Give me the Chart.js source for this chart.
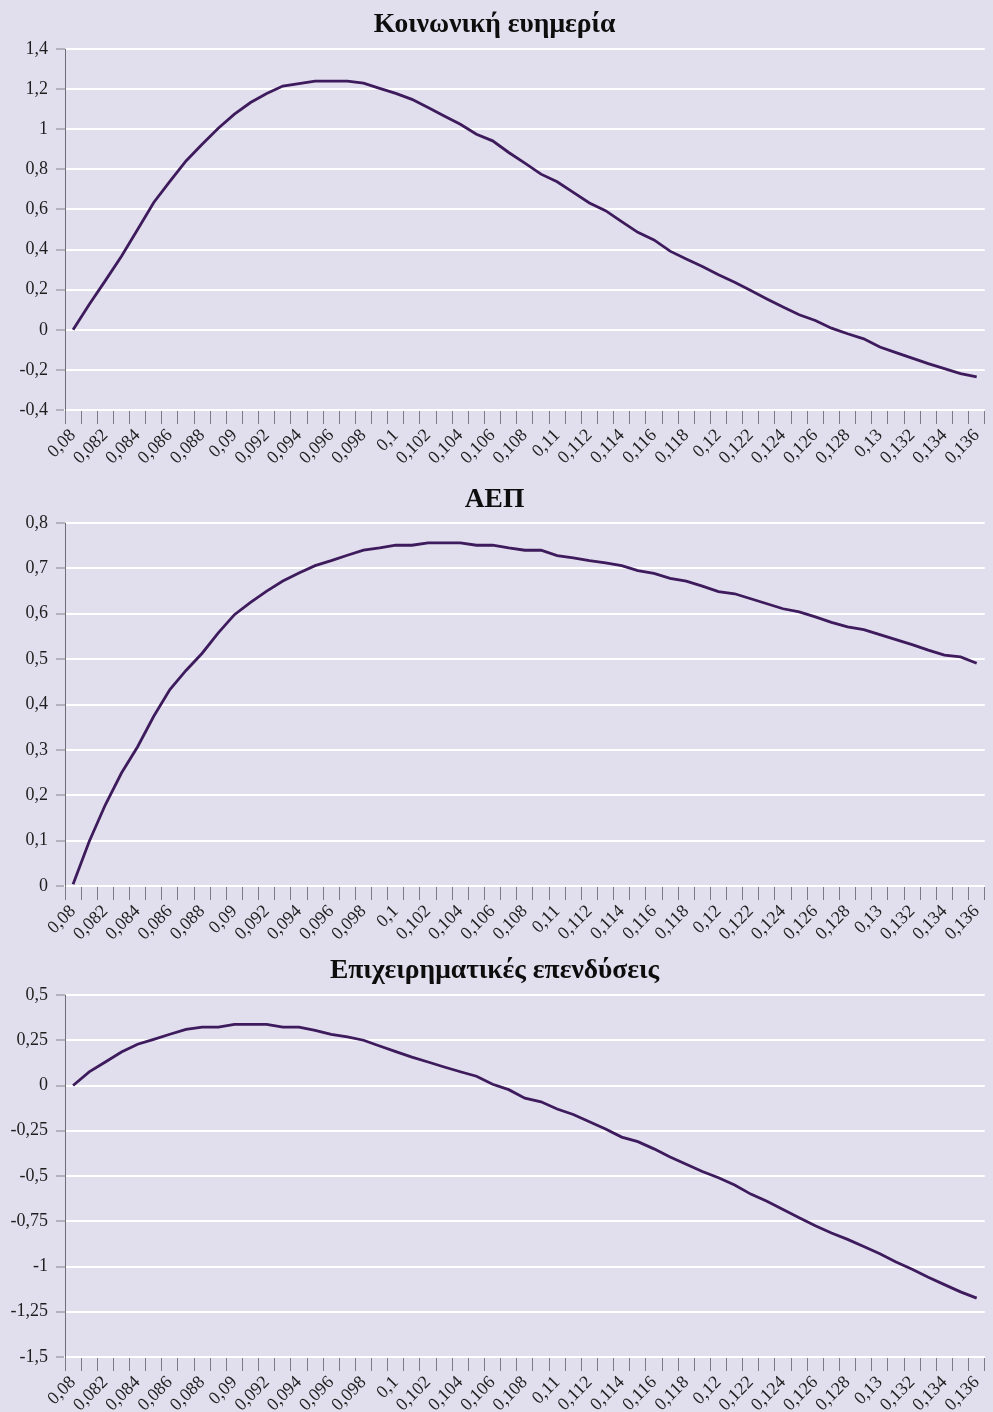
<!DOCTYPE html>
<html>
<head>
<meta charset="utf-8">
<script src="https://cdn.jsdelivr.net/npm/chart.js@4.4.1/dist/chart.umd.min.js"></script>
<style>
  html, body { margin: 0; padding: 0; background: #e1deed; }
  body { width: 993px; height: 1412px; position: relative; overflow: hidden; }
  .box { position: absolute; left: 0; width: 993px; }
  canvas { display: block; }
</style>
</head>
<body>
<div class="box" style="top:0px;height:470px;"><canvas id="c1" width="993" height="470"></canvas></div>
<div class="box" style="top:470px;height:475px;"><canvas id="c2" width="993" height="475"></canvas></div>
<div class="box" style="top:945px;height:467px;"><canvas id="c3" width="993" height="467"></canvas></div>
<script>
const categories = ['0,08','0,081','0,082','0,083','0,084','0,085','0,086','0,087','0,088','0,089',
  '0,09','0,091','0,092','0,093','0,094','0,095','0,096','0,097','0,098','0,099',
  '0,1','0,101','0,102','0,103','0,104','0,105','0,106','0,107','0,108','0,109',
  '0,11','0,111','0,112','0,113','0,114','0,115','0,116','0,117','0,118','0,119',
  '0,12','0,121','0,122','0,123','0,124','0,125','0,126','0,127','0,128','0,129',
  '0,13','0,131','0,132','0,133','0,134','0,135','0,136'];

const titles = ['Κοινωνική ευημερία', 'ΑΕΠ', 'Επιχειρηματικές επενδύσεις'];

const welfare = [0.0, 0.126, 0.245, 0.367, 0.50, 0.635, 0.74, 0.842, 0.925, 1.005,
  1.075, 1.133, 1.178, 1.215, 1.227, 1.24, 1.24, 1.24, 1.23, 1.204,
  1.179, 1.149, 1.108, 1.066, 1.025, 0.975, 0.942, 0.884, 0.831, 0.776,
  0.738, 0.685, 0.632, 0.594, 0.539, 0.486, 0.448, 0.392, 0.353, 0.315,
  0.274, 0.237, 0.196, 0.154, 0.113, 0.075, 0.046, 0.008, -0.02, -0.045,
  -0.086, -0.114, -0.141, -0.169, -0.194, -0.219, -0.235];

const gdp = [0.004, 0.098, 0.179, 0.249, 0.307, 0.374, 0.433, 0.475, 0.513, 0.558,
  0.598, 0.625, 0.650, 0.672, 0.690, 0.706, 0.717, 0.729, 0.740, 0.745,
  0.751, 0.751, 0.756, 0.756, 0.756, 0.751, 0.751, 0.745, 0.740, 0.740,
  0.728, 0.723, 0.717, 0.712, 0.706, 0.695, 0.689, 0.678, 0.672, 0.661,
  0.649, 0.644, 0.633, 0.622, 0.611, 0.604, 0.593, 0.581, 0.571, 0.565,
  0.554, 0.543, 0.532, 0.520, 0.509, 0.505, 0.491];

const investment = [0.0, 0.075, 0.13, 0.185, 0.228, 0.255, 0.283, 0.31, 0.323, 0.323,
  0.338, 0.338, 0.338, 0.323, 0.323, 0.305, 0.283, 0.268, 0.25, 0.218,
  0.187, 0.157, 0.13, 0.102, 0.076, 0.051, 0.007, -0.023, -0.07, -0.09,
  -0.13, -0.16, -0.2, -0.24, -0.285, -0.31, -0.35, -0.395, -0.435, -0.475,
  -0.51, -0.55, -0.6, -0.64, -0.685, -0.73, -0.775, -0.815, -0.85, -0.89,
  -0.93, -0.975, -1.015, -1.06, -1.1, -1.14, -1.175];

const yMins = [-0.4, 0, -1.5];
const yMaxs = [1.4, 0.8, 0.5];
const ySteps = [0.2, 0.1, 0.25];

const FONT = "'Liberation Serif', 'Times New Roman', serif";
const LINE = '#3d1b5c';

function fmt(v) {
  const r = Math.round(v * 1000) / 1000;
  return String(r).replace('.', ',');
}

function makeChart(id, data, idx, titleTop, titleBottom, xHeight) {
  new Chart(document.getElementById(id), {
    type: 'line',
    data: {
      labels: categories,
      datasets: [{
        data: data,
        borderColor: LINE,
        borderWidth: 2.8,
        pointRadius: 0,
        tension: 0,
        fill: false
      }]
    },
    options: {
      responsive: false,
      animation: false,
      layout: { padding: { left: 0, right: 4, top: 0, bottom: 0 } },
      plugins: {
        legend: { display: false },
        tooltip: { enabled: false },
        title: {
          display: true,
          text: titles[idx],
          color: '#0d0d0d',
          font: { family: FONT, size: 27.5, weight: 'bold', lineHeight: 1.2 },
          padding: { top: titleTop, bottom: titleBottom }
        }
      },
      scales: {
        x: {
          type: 'category',
          offset: true,
          grid: {
            offset: true,
            drawOnChartArea: false,
            drawTicks: true,
            tickLength: 14,
            tickColor: '#7c7a84',
            color: '#7c7a84'
          },
          border: { display: true, color: '#ffffff', width: 2 },
          ticks: {
            autoSkip: false,
            maxRotation: 45,
            minRotation: 45,
            padding: 1,
            color: '#1e1e1e',
            font: { family: FONT, size: 18 },
            callback: function (v, i) { return i % 2 === 0 ? categories[i] : ''; }
          },
          afterFit: function (s) { s.height = xHeight; }
        },
        y: {
          min: yMins[idx],
          max: yMaxs[idx],
          grid: {
            color: '#ffffff',
            lineWidth: 2,
            drawTicks: true,
            tickLength: 9,
            tickColor: '#b4b2bc'
          },
          border: { display: true, color: '#6e6c76', width: 1 },
          ticks: {
            stepSize: ySteps[idx],
            padding: 8,
            color: '#1e1e1e',
            font: { family: FONT, size: 18 },
            callback: function (v) { return fmt(v); }
          },
          afterFit: function (s) { s.width = 65; }
        }
      }
    }
  });
}

makeChart('c1', welfare, 0, 8, 8, 60);
makeChart('c2', gdp, 1, 13, 7, 59);
makeChart('c3', investment, 2, 9, 8, 55);
</script>
</body>
</html>
